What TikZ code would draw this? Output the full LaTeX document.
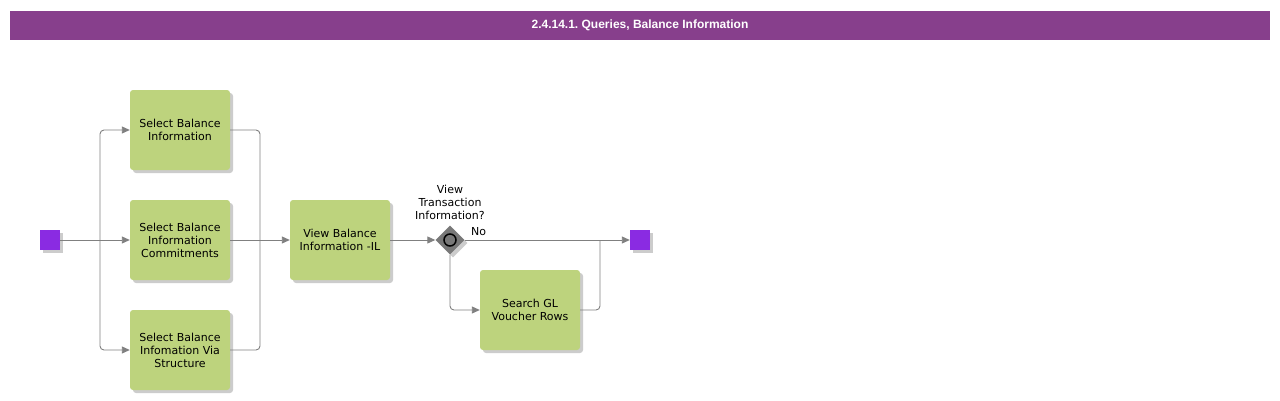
\documentclass[tikz,border=0pt]{standalone}
\usepackage{fontspec}
\setmainfont{DejaVu Sans}
\newfontfamily\titlefont{Liberation Sans}
\usetikzlibrary{shapes.geometric,arrows.meta}
\frenchspacing
\definecolor{taskgreen}{HTML}{BDD37D}
\definecolor{titlepurple}{HTML}{873F8C}
\definecolor{evpurple}{HTML}{8A2BE2}
\definecolor{linegray}{HTML}{808080}
\definecolor{gwgray}{HTML}{787878}
\tikzset{
  task/.style={fill=taskgreen, rounded corners=3pt, minimum width=100pt, minimum height=80pt, inner sep=0pt, align=center, font=\fontsize{11}{13}\selectfont},
  taskshadow/.style={fill=black!20, rounded corners=3pt, minimum width=100pt, minimum height=80pt, inner sep=0pt},
  event/.style={fill=evpurple, minimum size=20pt, inner sep=0pt},
  evshadow/.style={fill=black!20, minimum size=20pt, inner sep=0pt},
  gateway/.style={diamond, fill=gwgray, minimum size=29pt, inner sep=0pt},
  gwshadow/.style={diamond, fill=black!20, minimum size=29pt, inner sep=0pt},
  line/.style={draw=linegray, line width=0.9pt, rounded corners=4pt},
  flow/.style={line, -{Triangle[length=8pt,width=7pt]}, shorten >=0pt},
  lbl/.style={align=center, font=\fontsize{11}{13}\selectfont, inner sep=0pt},
}
\begin{document}
\begin{tikzpicture}[x=1pt,y=-1pt]
\useasboundingbox[fill=white] (0,0) rectangle (1280,400);
% title bar
\node[fill=titlepurple, minimum width=1260pt, minimum height=29pt, inner sep=0pt, text=white, font=\titlefont\bfseries\fontsize{12}{14}\selectfont] (title) at (640,25) {2.4.14.1. Queries, Balance Information};
% shadows
\foreach \x/\y in {180/130,180/240,180/350,340/240,530/310} {\node[taskshadow] at (\x+3,\y+3) {};}
\node[evshadow] at (53,243) {};
\node[evshadow] at (643,243) {};
\node[gwshadow] at (453,243) {};
% nodes
\node[event] (start) at (50,240) {};
\node[task] (b1) at (180,130) {Select Balance\\Information};
\node[task] (b2) at (180,240) {Select Balance\\Information\\Commitments};
\node[task] (b3) at (180,350) {Select Balance\\Infomation Via\\Structure};
\node[task] (b4) at (340,240) {View Balance\\Information -IL};
\node[gateway] (gw) at (450,240) {};
\node[circle, draw=black, line width=1.5pt, fill=gwgray, minimum size=12pt, inner sep=0pt] (gwc) at (gw.center) {};
\node[task] (sg) at (530,310) {Search GL\\Voucher Rows};
\node[event] (end) at (640,240) {};
\node[lbl] (q) at (450,202) {View\\Transaction\\Information?};
\node[lbl, anchor=west] (no) at (471,232) {No};
% junction coordinates
\coordinate (s1) at (100,240);
\coordinate (m1) at (260,240);
\coordinate (m2) at (600,240);
% connectors
\draw[line] (start.east) -- (s1);
\draw[flow] (s1) |- (b1.west);
\draw[flow] (s1) -- (b2.west);
\draw[flow] (s1) |- (b3.west);
\draw[line] (b1.east) -| (m1);
\draw[line] (b3.east) -| (m1);
\draw[flow] (b2.east) -- (b4.west);
\draw[flow] (b4.east) -- (gw.west);
\draw[flow] (gw.east) -- (end.west);
\draw[flow] (gw.south) |- (sg.west);
\draw[line] (sg.east) -| (m2);
\end{tikzpicture}
\end{document}
